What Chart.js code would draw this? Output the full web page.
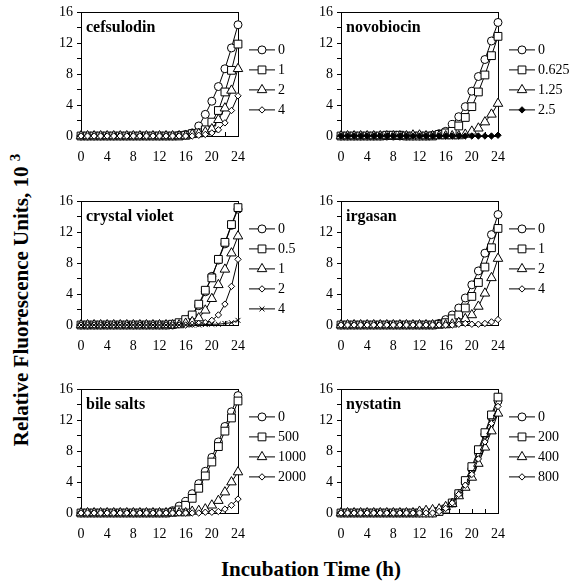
<!DOCTYPE html>
<html>
<head>
<meta charset="utf-8">
<script src="https://cdn.jsdelivr.net/npm/chart.js@4.4.0/dist/chart.umd.min.js"></script>
<style>
body { margin: 0; background: #fff; width: 570px; height: 586px; position: relative; overflow: hidden; font-family: "Liberation Serif", "Times New Roman", serif; }
canvas { position: absolute; }
.ttl { position: absolute; font-weight: bold; font-size: 21px; line-height: 22px; white-space: nowrap; color: #000; }
.ttl sup { font-size: 15px; }
#xt { left: 311px; top: 558px; transform: translate(-50%, 0); }
#yt { left: 18px; top: 300px; transform: translate(-50%, -50%) rotate(-90deg); }
</style>
</head>
<body>
<div class="ttl" id="xt">Incubation Time (h)</div>
<div class="ttl" id="yt">Relative Fluorescence Units, 10 <sup>3</sup></div>
<script>
// hours of incubation
var hours = [0,1,2,3,4,5,6,7,8,9,10,11,12,13,14,15,16,17,18,19,20,21,22,23,24];

// cefsulodin
var cefLabels = ['0', '1', '2', '4'];
var cef0 = [0,0,0,0,0,0,0,0,0,0,0,0,0,0,0,0.1,0.2,0.4,1.3,2.8,4.5,6.4,8.7,11.4,14.4];
var cef1 = [0,0,0,0,0,0,0,0,0,0,0,0,0,0,0,0,0.1,0.3,0.4,0.8,1.8,3.3,5.7,8.5,11.9];
var cef2 = [0,0,0,0,0,0,0,0,0,0,0,0,0,0,0,0,0,0.2,0.3,0.5,0.9,2.1,3.6,5.9,8.7];
var cef4 = [0,0,0,0,0,0,0,0,0,0,0,0,0,0,0,0,0,0,0.1,0.2,0.4,0.8,1.7,3.3,5.2];

// novobiocin
var novLabels = ['0', '0.625', '1.25', '2.5'];
var nov0 = [0,0,0,0,0,0,0,0,0,0,0,0,0,0,0.1,0.3,0.6,1.5,2.5,3.8,5.8,7.7,9.9,12.3,14.7];
var nov1 = [0,0,0,0,0,0,0,0.1,0.1,0.1,0,0,0,0,0,0.2,0.4,0.6,1.3,2.4,3.8,5.7,7.9,10.4,12.9];
var nov2 = [0,0,0,0,0,0,0,0,0,0,0,0.1,0.1,0,0,0,0,0,0,0.2,0.6,1.0,1.8,2.8,4.2];
var nov3 = [0,0,0,0,0,0,0,0,0,0,0,0,0,0,0,0,0,0,0,0,0,0,0,0,0.1];

// crystal violet
var cvLabels = ['0', '0.5', '1', '2', '4'];
var cv0 = [0,0,0,0,0,0,0,0,0,0,0,0,0,0,0,0.2,0.5,1.2,2.5,4.3,6.3,8.4,10.5,12.9,15.0];
var cv1 = [0,0,0,0,0,0,0,0,0,0,0,0,0,0,0.1,0.3,0.7,1.3,2.7,4.5,6.1,8.5,10.7,13.0,15.2];
var cv2 = [0,0,0,0,0,0,0,0,0,0,0,0,0,0,0,0,0.2,0.4,0.9,1.9,3.4,5.2,7.2,9.3,11.5];
var cv3 = [0,0,0,0,0,0,0,0,0,0,0,0,0,0,0,0,0,0.1,0.2,0.3,0.6,1.3,2.7,5.0,8.5];
var cv4 = [0,0,0,0,0,0,0,0,0,0,0,0,0,0,0,0,0,0,0,0.05,0.1,0.1,0.2,0.3,0.6];

// irgasan
var irgLabels = ['0', '1', '2', '4'];
var irg0 = [0,0,0,0,0,0,0,0,0,0,0,0,0,0,0,0.2,0.7,1.3,2.2,3.5,5.2,7.0,9.3,11.7,14.3];
var irg1 = [0,0,0,0,0,0,0,0,0,0,0,0,0,0,0,0.1,0.3,0.8,1.3,2.2,3.7,5.5,7.5,10.0,12.5];
var irg2 = [0,0,0,0,0,0,0,0,0,0,0,0,0,0,0,0,0,0.1,0.3,0.8,1.3,2.4,4.1,6.1,8.6];
var irg4 = [0,0,0,0,0,0,0,0,0,0,0,0,0,0,0,0,0,0,0.1,0.2,0.1,0.1,0.2,0.4,0.7];

// bile salts
var bileLabels = ['0', '500', '1000', '2000'];
var bile0 = [0,0,0,0,0,0,0,0,0,0,0,0,0,0,0.3,0.9,1.5,2.5,3.8,5.4,7.2,9.2,11.2,13.1,15.2];
var bile1 = [0,0,0,0,0,0,0,0,0,0,0,0,0,0,0.1,0.4,1.0,1.9,3.2,4.8,6.6,8.6,10.6,12.3,14.5];
var bile2 = [0,0,0,0,0,0,0,0,0,0,0,0,0,0,0,0,0,0.2,0.3,0.5,1.0,1.6,2.7,4.0,5.3];
var bile3 = [0,0,0,0,0,0,0,0,0,0,0,0,0,0,0,0,0,0,0,0.1,0.1,0.2,0.5,1.0,1.8];

// nystatin
var nysLabels = ['0', '200', '400', '800'];
var nys0 = [0,0,0,0,0,0,0,0,0,0,0,0,0,0,0,0.2,0.6,1.3,2.5,4.0,5.7,7.8,10.2,12.4,14.5];
var nys1 = [0,0,0,0,0,0,0,0,0,0,0,0,0,0,0,0.2,0.5,1.3,2.5,4.2,6.0,8.2,10.4,12.7,15.0];
var nys2 = [0,0,0,0,0,0,0,0,0,0,0,0,0.2,0.3,0.4,0.5,0.8,1.2,2.2,3.3,4.6,6.4,8.5,10.6,12.9];
var nys3 = [0,0,0,0,0,0,0,0,0,0,0,0,0,0,0,0.2,0.6,1.3,2.4,3.6,5.0,7.0,9.2,11.6,13.8];

var FONT = '"Liberation Serif", "Times New Roman", serif';

// marker looks
var markers = {
    circle:  { pointStyle: 'circle',   radius: 4,   fill: '#fff' },
    square:  { pointStyle: 'rect',     radius: 5.5, fill: '#fff' },
    tri:     { pointStyle: 'triangle', radius: 5.5, fill: '#fff' },
    diamond: { pointStyle: 'rectRot',  radius: 3.2, fill: '#fff' },
    bdiamond:{ pointStyle: 'rectRot',  radius: 3.2, fill: '#000' },
    cross:   { pointStyle: 'crossRot', radius: 3.5, fill: '#fff' }
};

var panels = [
    { title: 'cefsulodin', col: 0, row: 0, legTop: 37, labels: cefLabels, series: [cef0, cef1, cef2, cef4], marks: ['circle','square','tri','diamond'] },
    { title: 'novobiocin', col: 1, row: 0, legTop: 37, labels: novLabels, series: [nov0, nov1, nov2, nov3], marks: ['circle','square','tri','bdiamond'] },
    { title: 'crystal violet', col: 0, row: 1, legTop: 27, labels: cvLabels, series: [cv0, cv1, cv2, cv3, cv4], marks: ['circle','square','tri','diamond','cross'] },
    { title: 'irgasan', col: 1, row: 1, legTop: 27, labels: irgLabels, series: [irg0, irg1, irg2, irg4], marks: ['circle','square','tri','diamond'] },
    { title: 'bile salts', col: 0, row: 2, legTop: 27, labels: bileLabels, series: [bile0, bile1, bile2, bile3], marks: ['circle','square','tri','diamond'] },
    { title: 'nystatin', col: 1, row: 2, legTop: 27, labels: nysLabels, series: [nys0, nys1, nys2, nys3], marks: ['circle','square','tri','diamond'] }
];

var plotLefts = [81, 341];
var plotTops = [9, 198, 386];
var PW = 157, PH = 127, LEFT = 45, TOP = 9, RIGHT = 72, BOTTOM = 30;

function drawMark(ctx, m, x, y) {
    ctx.save();
    ctx.fillStyle = m.fill;
    ctx.strokeStyle = '#000';
    ctx.lineWidth = 1;
    if (Chart.helpers && Chart.helpers.drawPoint) {
        Chart.helpers.drawPoint(ctx, { pointStyle: m.pointStyle, radius: m.radius, rotation: 0, borderWidth: 1 }, x, y);
    }
    ctx.restore();
}

var panelPlugin = {
    id: 'panelDeco',
    beforeDatasetsDraw: function(chart) {
        var a = chart.chartArea, ctx = chart.ctx;
        var xs = chart.scales.x;
        ctx.save();
        ctx.strokeStyle = '#000';
        ctx.lineWidth = 1;
        ctx.strokeRect(Math.round(a.left) + 0.5, Math.round(a.top) + 0.5, Math.round(a.right - a.left), Math.round(a.bottom - a.top));
        // inward ticks on the time axis
        ctx.beginPath();
        for (var v = 0; v <= 24; v += 2) {
            var px = Math.round(xs.getPixelForValue(v)) + 0.5;
            ctx.moveTo(px, a.bottom);
            ctx.lineTo(px, a.bottom - 4);
        }
        ctx.stroke();
        ctx.restore();
    },
    afterDraw: function(chart) {
        var p = chart.config.options.plugins.panelDeco;
        var a = chart.chartArea, ctx = chart.ctx;
        ctx.save();
        ctx.fillStyle = '#000';
        ctx.font = 'bold 16px ' + FONT;
        ctx.textBaseline = 'alphabetic';
        ctx.fillText(p.title, a.left + 5, a.top + 20);
        // legend
        ctx.font = '14px ' + FONT;
        ctx.textBaseline = 'middle';
        for (var i = 0; i < p.labels.length; i++) {
            var y = a.top + p.legTop + i * 20;
            ctx.strokeStyle = '#000';
            ctx.lineWidth = 1;
            ctx.beginPath();
            ctx.moveTo(a.right + 11, y + 0.5);
            ctx.lineTo(a.right + 37, y + 0.5);
            ctx.stroke();
            drawMark(ctx, markers[p.marks[i]], a.right + 24, y + 0.5);
            ctx.fillStyle = '#000';
            ctx.fillText(p.labels[i], a.right + 40, y + 1);
        }
        ctx.restore();
    }
};

panels.forEach(function(p, k) {
    var cv = document.createElement('canvas');
    var w = LEFT + PW + RIGHT, h = TOP + PH + BOTTOM;
    cv.width = w;
    cv.height = h;
    cv.style.width = w + 'px';
    cv.style.height = h + 'px';
    cv.style.left = (plotLefts[p.col] - LEFT) + 'px';
    cv.style.top = (plotTops[p.row] - TOP) + 'px';
    cv.id = 'panel' + k;
    document.body.appendChild(cv);

    var datasets = p.series.map(function(s, i) {
        var m = markers[p.marks[i]];
        return {
            label: p.labels[i],
            data: hours.map(function(hr, j) { return { x: hr, y: s[j] }; }),
            borderColor: '#000',
            borderWidth: 1,
            backgroundColor: m.fill,
            pointStyle: m.pointStyle,
            pointRadius: m.radius,
            pointBorderWidth: 1,
            pointBorderColor: '#000',
            pointBackgroundColor: m.fill,
            tension: 0,
            clip: false
        };
    });
    // draw the first series on top
    datasets.reverse();

    new Chart(cv.getContext('2d'), {
        type: 'line',
        data: { datasets: datasets },
        options: {
            responsive: false,
            animation: false,
            devicePixelRatio: 1,
            layout: { padding: { left: 0, top: TOP, right: RIGHT, bottom: 0 } },
            plugins: {
                legend: { display: false },
                tooltip: { enabled: false },
                panelDeco: { title: p.title, labels: p.labels, marks: p.marks, legTop: p.legTop }
            },
            scales: {
                x: {
                    type: 'linear', min: 0, max: 24,
                    grid: { display: false },
                    border: { display: true, color: '#000', width: 1 },
                    ticks: { stepSize: 4, padding: 5, color: '#000', font: { family: FONT, size: 14 }, maxRotation: 0, autoSkip: false },
                    afterFit: function(s) { s.height = BOTTOM; }
                },
                y: {
                    min: 0, max: 16,
                    grid: { display: true, drawOnChartArea: false, drawTicks: true, tickLength: 4, color: '#000' },
                    border: { display: true, color: '#000', width: 1 },
                    ticks: { stepSize: 2, padding: 4, color: '#000', font: { family: FONT, size: 14 }, autoSkip: false,
                        callback: function(v) { return v % 4 === 0 ? v : ''; } },
                    afterFit: function(s) { s.width = LEFT; }
                }
            }
        },
        plugins: [panelPlugin]
    });
});
</script>
</body>
</html>
